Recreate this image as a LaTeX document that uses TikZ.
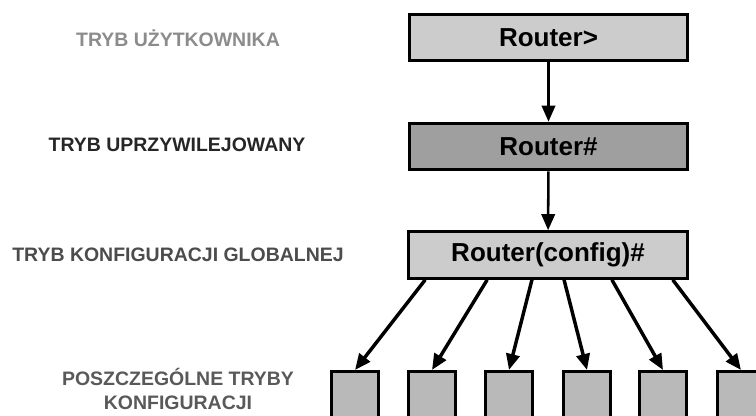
\documentclass[tikz,border=0pt]{standalone}
\usepackage{fontspec}
\setmainfont{Liberation Sans}
\usetikzlibrary{calc,arrows.meta}

\begin{document}
\begin{tikzpicture}[x=0.75pt,y=-0.75pt]
	\tikzset{mode/.style={draw=black,line width=2.2pt,minimum width=209pt,minimum height=35pt,inner sep=0pt,font=\fontsize{19.5}{21}\selectfont\bfseries}};
	\tikzset{sub/.style={draw=black,fill=gray!55,line width=2.2pt,minimum width=35pt,minimum height=60pt,inner sep=0pt,anchor=north}};
	\tikzset{lbl/.style={font=\fontsize{14.6}{18}\selectfont\bfseries,align=center,inner sep=0pt}};
	\tikzset{link/.style={line width=2.6pt,-{Triangle[length=12pt,width=10pt]}}};
	\useasboundingbox (0,0) rectangle (756,415);
	\clip (0,0) rectangle (756,415);
	\fill[white] (0,0) rectangle (756,415);

	\node[mode,fill=gray!40] (user) at (548.5,37.5) {Router>};
	\node[mode,fill=gray!75] (priv) at (548.5,146.5) {Router\#};
	\node[mode,fill=gray!40] (cfg) at (548,255) {Router(config)\#};

	\node[sub] (b1) at (355,370) {};
	\node[sub] (b2) at (432,370) {};
	\node[sub] (b3) at (509,370) {};
	\node[sub] (b4) at (587,370) {};
	\node[sub] (b5) at (663,370) {};
	\node[sub] (b6) at (741,370) {};

	\node[lbl,text=gray!90!white] (l1) at (178,38) {TRYB UŻYTKOWNIKA};
	\node[lbl,text=black!85] (l2) at (177,145) {TRYB UPRZYWILEJOWANY};
	\node[lbl,text=black!70] (l3) at (178,255) {TRYB KONFIGURACJI GLOBALNEJ};
	\node[lbl,text=black!65] (l4) at (178,389) {POSZCZEGÓLNE TRYBY\\KONFIGURACJI};

	\draw[link,line width=1.9pt] (user)--(priv);
	\draw[link,line width=1.9pt] (priv)--(cfg);

	\draw[link] ($(cfg.south west)!0.064!(cfg.south east)$)--(b1.north);
	\draw[link] ($(cfg.south west)!0.284!(cfg.south east)$)--(b2.north);
	\draw[link] ($(cfg.south west)!0.443!(cfg.south east)$)--(b3.north);
	\draw[link] ($(cfg.south west)!0.557!(cfg.south east)$)--(b4.north);
	\draw[link] ($(cfg.south west)!0.727!(cfg.south east)$)--(b5.north);
	\draw[link] ($(cfg.south west)!0.943!(cfg.south east)$)--(b6.north);
\end{tikzpicture}
\end{document}
